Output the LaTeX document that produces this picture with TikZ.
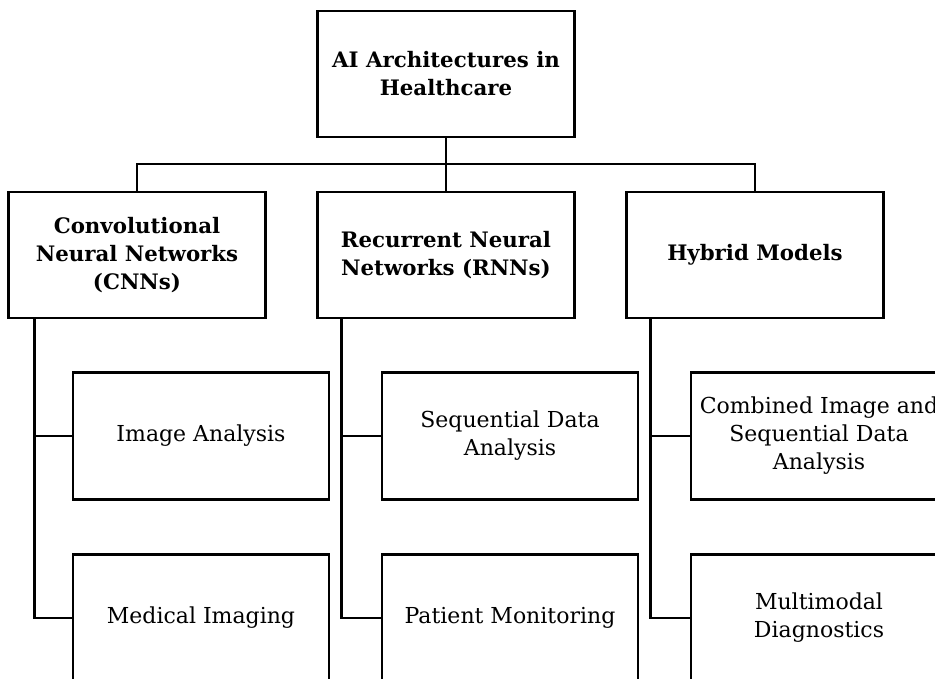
\documentclass[tikz,border=0pt]{standalone}
\usepackage{fontspec}
\setmainfont{DejaVu Serif}
\usetikzlibrary{positioning}

\begin{document}
\begin{tikzpicture}[x=1pt, y=-1pt, line width=2.2pt,
    every node/.style={font=\fontsize{22}{28}\selectfont, align=center},
    headbox/.style={draw, rectangle, minimum width=257pt, minimum height=126pt, font=\fontsize{21.3}{28}\selectfont\bfseries},
    leafbox/.style={draw, rectangle, minimum width=256pt, minimum height=127pt}]
  \clip (0,0) rectangle (935,679);
  % root and the three families
  \node[headbox] (root) at (446,74) {AI Architectures in\\Healthcare};
  \node[headbox] (cnn) at (137,255) {Convolutional\\Neural Networks\\(CNNs)};
  \node[headbox] (rnn) at (446,255) {Recurrent Neural\\Networks (RNNs)};
  \node[headbox] (hyb) at (755,255) {Hybrid Models};
  \coordinate (bus) at (446,164);
  \draw (root.south) -- (bus);
  \draw (bus) -| (cnn.north);
  \draw (bus) -- (rnn.north);
  \draw (bus) -| (hyb.north);
  % applications
  \node[leafbox] (cnnA) at (201,436) {Image Analysis};
  \node[leafbox] (cnnB) at (201,618) {Medical Imaging};
  \node[leafbox] (rnnA) at (510,436) {Sequential Data\\Analysis};
  \node[leafbox] (rnnB) at (510,618) {Patient Monitoring};
  \node[leafbox] (hybA) at (819,436) {Combined Image and\\Sequential Data\\Analysis};
  \node[leafbox] (hybB) at (819,618) {Multimodal\\Diagnostics};
  \draw ([xshift=27pt]cnn.south west) |- (cnnA.west);
  \draw ([xshift=27pt]cnn.south west) |- (cnnB.west);
  \draw ([xshift=25pt]rnn.south west) |- (rnnA.west);
  \draw ([xshift=25pt]rnn.south west) |- (rnnB.west);
  \draw ([xshift=25pt]hyb.south west) |- (hybA.west);
  \draw ([xshift=25pt]hyb.south west) |- (hybB.west);
\end{tikzpicture}
\end{document}
